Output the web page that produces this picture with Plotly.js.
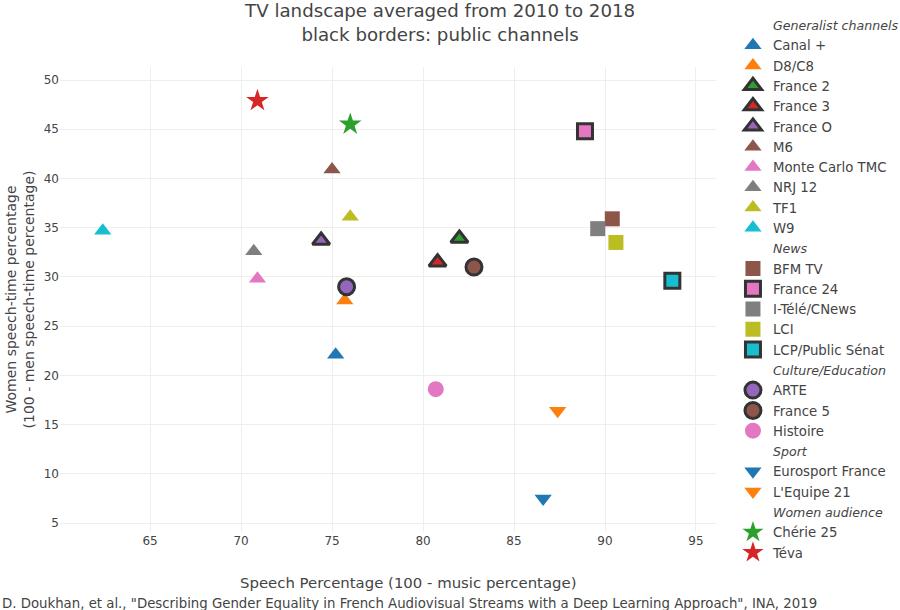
<!DOCTYPE html>
<html>
<head>
<meta charset="utf-8">
<script src="https://cdn.plot.ly/plotly-3.0.1.min.js"></script>
<style>
  body { margin: 0; background: white; }
  #chart { width: 900px; height: 610px; }
</style>
</head>
<body>
<div id="chart"></div>
<script>
// Channel data
const groups = ['Generalist channels', 'News', 'Culture/Education', 'Sport', 'Women audience'];
const channels = [
    'Canal +', 'D8/C8', 'France 2', 'France 3', 'France O', 'M6', 'Monte Carlo TMC', 'NRJ 12', 'TF1', 'W9',
    'BFM TV', 'France 24', 'I-Télé/CNews', 'LCI', 'LCP/Public Sénat',
    'ARTE', 'France 5', 'Histoire',
    'Eurosport France', "L'Equipe 21",
    'Chérie 25', 'Téva'
];
const channelGroup = [
    0, 0, 0, 0, 0, 0, 0, 0, 0, 0,
    1, 1, 1, 1, 1,
    2, 2, 2,
    3, 3,
    4, 4
];
// x: speech percentage (100 - music percentage)
const speechPct = [
    75.2, 75.7, 82.0, 80.8, 74.4, 75.0, 70.9, 70.7, 76.0, 62.4,
    90.4, 88.9, 89.6, 90.6, 93.7,
    75.8, 82.8, 80.7,
    86.6, 87.4,
    76.0, 70.9
];
// y: women speech-time percentage
const womenPct = [
    22.1, 27.6, 33.9, 31.5, 33.7, 40.9, 29.8, 32.6, 36.1, 34.7,
    35.9, 44.8, 34.9, 33.5, 29.6,
    29.0, 31.0, 18.6,
    7.5, 16.4,
    45.5, 47.9
];
const isPublic = [
    false, false, true, true, true, false, false, false, false, false,
    false, true, false, false, true,
    true, true, false,
    false, false,
    false, false
];

// styles
const palette = {
    blue: '#1f77b4', orange: '#ff7f0e', green: '#2ca02c', red: '#d62728', purple: '#9467bd',
    brown: '#8c564b', pink: '#e377c2', gray: '#7f7f7f', olive: '#bcbd22', cyan: '#17becf'
};
const channelColor = [
    'blue', 'orange', 'green', 'red', 'purple', 'brown', 'pink', 'gray', 'olive', 'cyan',
    'brown', 'pink', 'gray', 'olive', 'cyan',
    'purple', 'brown', 'pink',
    'blue', 'orange',
    'green', 'red'
];
const groupSymbol = ['triangle-up', 'square', 'circle', 'triangle-down', 'star'];
const groupSize = [15, 15, 16, 15, 17];

const traces = [];
groups.forEach((g, gi) => {
    // group header in legend (no marks)
    traces.push({
        x: [null], y: [null],
        mode: 'markers',
        type: 'scatter',
        name: '<span style="font-size:12.6px"><i>' + g + '</i></span>',
        marker: { size: 1, color: 'rgba(0,0,0,0)' },
        hoverinfo: 'skip'
    });
    channels.forEach((c, i) => {
        if (channelGroup[i] !== gi) return;
        traces.push({
            x: [speechPct[i]],
            y: [womenPct[i]],
            mode: 'markers',
            type: 'scatter',
            name: c,
            marker: {
                symbol: groupSymbol[gi],
                size: groupSize[gi],
                color: palette[channelColor[i]],
                line: isPublic[i] ? { color: '#333333', width: 3 } : { width: 0 }
            },
            hovertemplate: '<b>' + c + '</b><br>Speech: %{x:.1f}<br>Women: %{y:.1f}<extra></extra>'
        });
    });
});

const layout = {
    width: 900,
    height: 610,
    font: { family: 'DejaVu Sans, Verdana, sans-serif', color: '#444444', size: 12 },
    title: {
        text: 'TV landscape averaged from 2010 to 2018<br>black borders: public channels',
        font: { size: 18.2 },
        xref: 'container', x: 0.489,
        yref: 'container', y: 0.972, yanchor: 'top'
    },
    xaxis: {
        range: [60.05, 96.1],
        dtick: 5,
        showgrid: true,
        gridcolor: '#eeeeee',
        zeroline: false,
        showline: false
    },
    yaxis: {
        title: { text: 'Women speech-time percentage<br>(100 - men speech-time percentage)', font: { size: 14 }, standoff: 5 },
        range: [4.09, 51.32],
        dtick: 5,
        showgrid: true,
        gridcolor: '#eeeeee',
        zeroline: false,
        showline: false
    },
    legend: {
        xref: 'container', x: 0.8144, xanchor: 'left',
        yref: 'container', y: 0.984, yanchor: 'top',
        font: { size: 13.3 },
        tracegroupgap: 0,
        maxheight: 600,
        bgcolor: 'rgba(255,255,255,0)'
    },
    annotations: [{
        // x axis title
        text: 'Speech Percentage (100 - music percentage)',
        xref: 'paper', yref: 'paper',
        x: 0.5305, xanchor: 'center',
        y: -0.1095, yanchor: 'middle',
        showarrow: false,
        font: { size: 14.9 }
    }, {
        text: 'D. Doukhan, et al., "Describing Gender Equality in French Audiovisual Streams with a Deep Learning Approach", INA, 2019',
        xref: 'paper', yref: 'paper',
        x: -0.0915, xanchor: 'left',
        y: -0.1527, yanchor: 'middle',
        showarrow: false,
        font: { size: 13.3 }
    }],
    plot_bgcolor: 'white',
    paper_bgcolor: 'white',
    margin: { l: 60, r: 184, t: 67, b: 78 },
    hovermode: 'closest'
};

Plotly.newPlot('chart', traces, layout, { displayModeBar: false });
</script>
</body>
</html>
